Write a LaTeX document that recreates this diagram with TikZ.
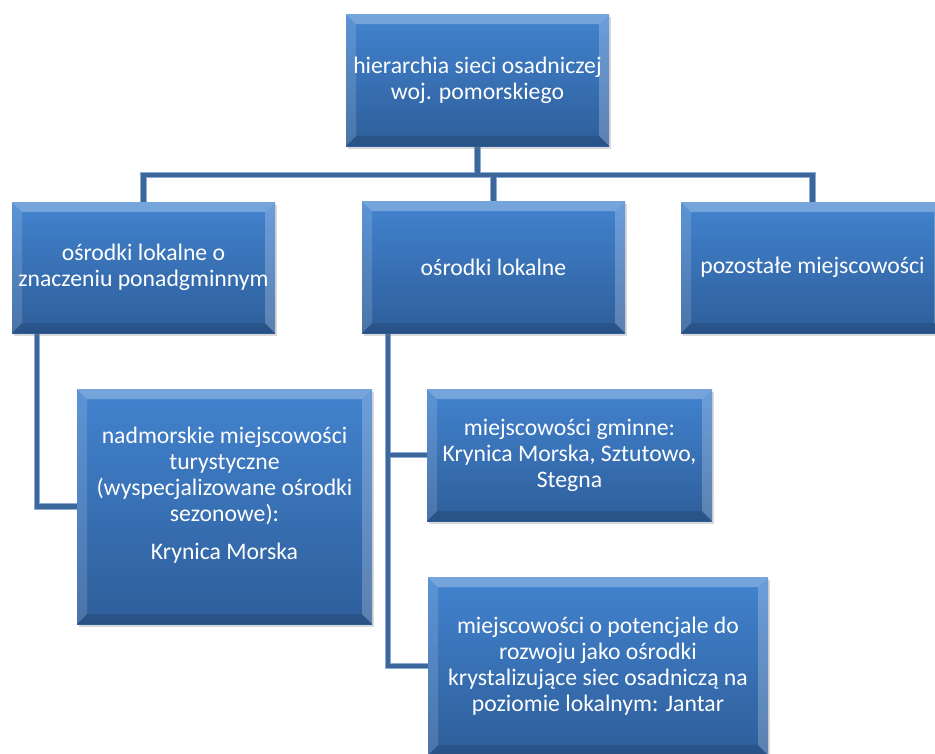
\documentclass[tikz,border=0pt]{standalone}
\usepackage{fontspec}
\setmainfont{Carlito}
\usetikzlibrary{shadows,backgrounds}
\definecolor{boxtop}{RGB}{66,131,207}
\definecolor{boxbot}{RGB}{46,94,154}
\definecolor{lineblue}{RGB}{60,103,155}
\definecolor{lineedge}{RGB}{140,172,214}
\tikzset{
  sbox/.style={rectangle, draw=none, top color=boxtop, bottom color=boxbot,
    text=white, font=\fontsize{23.7}{26}\selectfont, align=center, inner sep=0pt,
    drop shadow={opacity=0.3, shadow xshift=1.5pt, shadow yshift=-3pt},
    path picture={
      \fill[white,opacity=0.28] (path picture bounding box.north west) -- (path picture bounding box.north east)
        -- ([shift={(-10pt,-10pt)}]path picture bounding box.north east) -- ([shift={(10pt,-10pt)}]path picture bounding box.north west) -- cycle;
      \fill[white,opacity=0.14] (path picture bounding box.north west) -- ([shift={(10pt,-10pt)}]path picture bounding box.north west)
        -- ([shift={(10pt,10pt)}]path picture bounding box.south west) -- (path picture bounding box.south west) -- cycle;
      \fill[white,opacity=0.22] (path picture bounding box.north east) -- ([shift={(-10pt,-10pt)}]path picture bounding box.north east)
        -- ([shift={(-10pt,10pt)}]path picture bounding box.south east) -- (path picture bounding box.south east) -- cycle;
      \fill[black,opacity=0.12] (path picture bounding box.south west) -- ([shift={(10pt,10pt)}]path picture bounding box.south west)
        -- ([shift={(-10pt,10pt)}]path picture bounding box.south east) -- (path picture bounding box.south east) -- cycle;
    }},
  connedge/.style={draw=lineedge, line width=6.4pt, line join=miter},
  conninner/.style={draw=lineblue, line width=4.4pt, line join=miter},
}
\begin{document}
\begin{tikzpicture}[x=1pt,y=-1pt]
\useasboundingbox (0,0) rectangle (935,753);

\node[sbox, minimum width=263pt, minimum height=132pt] (top) at (477.5,80)
  {hierarchia sieci osadniczej\\woj. pomorskiego};
\node[sbox, minimum width=263pt, minimum height=131pt] (left) at (143.5,267.5)
  {ośrodki lokalne o\\znaczeniu ponadgminnym};
\node[sbox, minimum width=263pt, minimum height=132pt] (mid) at (493.5,267)
  {ośrodki lokalne};
\node[sbox, minimum width=263pt, minimum height=131pt] (right) at (812.5,267.5)
  {pozostałe miejscowości};
\node[sbox, minimum width=295pt, minimum height=235pt] (nadm) at (224.5,506.5)
  {nadmorskie miejscowości\\turystyczne\\(wyspecjalizowane ośrodki\\sezonowe):\\[12pt]Krynica Morska\\\mbox{}};
\node[sbox, minimum width=285pt, minimum height=132pt] (gm) at (569.5,455)
  {miejscowości gminne:\\Krynica Morska, Sztutowo,\\Stegna};
\node[sbox, minimum width=340pt, minimum height=178pt] (jan) at (598,666)
  {miejscowości o potencjale do\\rozwoju jako ośrodki\\krystalizujące siec osadniczą na\\poziomie lokalnym: Jantar};

\coordinate (bus) at (477.5,175);
\coordinate (lstem) at ([xshift=25pt]left.south west);
\coordinate (mstem) at ([xshift=26pt]mid.south west);

\begin{pgfonlayer}{background}
  \foreach \st in {connedge,conninner}{
    \draw[\st] (top.south) -- (bus);
    \draw[\st] (left.north) -- (left.north |- bus) -- (right.north |- bus) -- (right.north);
    \draw[\st] (mid.north) -- (mid.north |- bus);
    \draw[\st] (lstem) |- (nadm.west);
    \draw[\st] (mstem) |- (gm.west);
    \draw[\st] (mstem) |- (jan.west);
  }
\end{pgfonlayer}
\end{tikzpicture}
\end{document}
